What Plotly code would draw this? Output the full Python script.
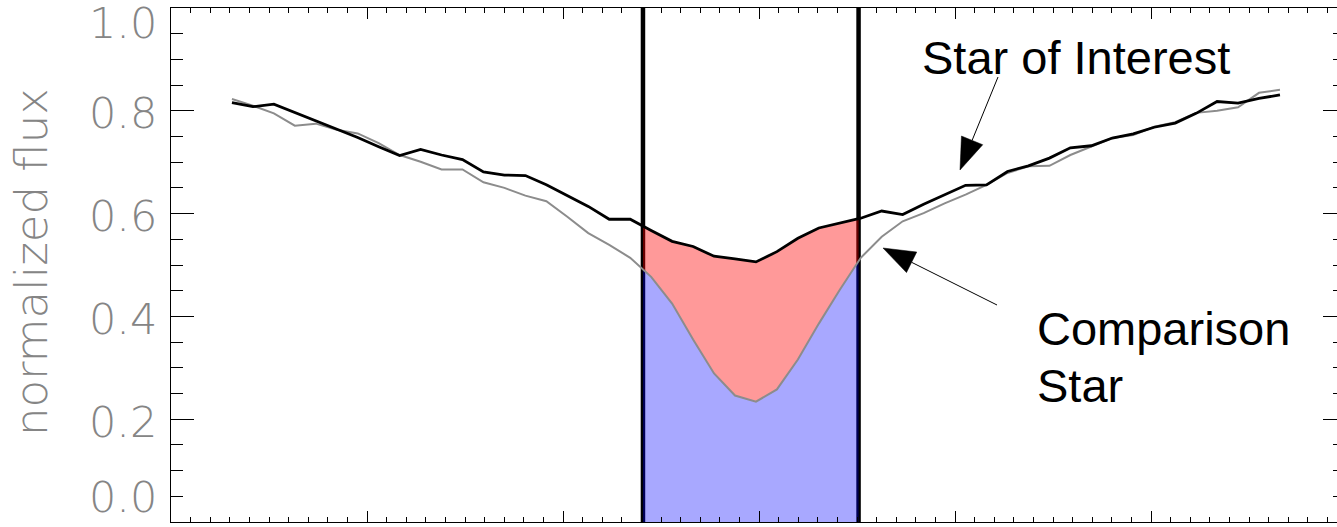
import numpy as np
import plotly.graph_objects as go

# Spectral samples (arbitrary wavelength units along the x axis)
x_start = 3.11
x_step = 1.0694
n_samples = 51
wave = np.round(x_start + x_step * np.arange(n_samples), 3)

# Normalized flux of the target star
flux_target = [
    0.816, 0.808, 0.813, 0.797, 0.780, 0.765, 0.748, 0.730, 0.713, 0.725,
    0.714, 0.705, 0.681, 0.675, 0.674, 0.656, 0.635, 0.614, 0.589, 0.589,
    0.567, 0.546, 0.536, 0.517, 0.512, 0.506, 0.526, 0.552, 0.572, 0.582,
    0.591, 0.605, 0.598, 0.618, 0.636, 0.655, 0.656, 0.682, 0.693, 0.708,
    0.728, 0.732, 0.747, 0.755, 0.768, 0.776, 0.795, 0.818, 0.815, 0.824,
    0.831,
]

# Normalized flux of the comparison star
flux_comparison = [
    0.823, 0.810, 0.795, 0.771, 0.775, 0.763, 0.756, 0.737, 0.714, 0.701,
    0.686, 0.686, 0.661, 0.650, 0.635, 0.624, 0.594, 0.562, 0.539, 0.514,
    0.477, 0.425, 0.355, 0.289, 0.246, 0.234, 0.258, 0.316, 0.386, 0.452,
    0.514, 0.555, 0.585, 0.601, 0.620, 0.637, 0.656, 0.679, 0.692, 0.693,
    0.714, 0.730, 0.747, 0.753, 0.769, 0.778, 0.796, 0.800, 0.807, 0.835,
    0.841,
]

# Integration window (line core)
band_edges = [24.08, 35.08]

# Y tick values and their labels
y_ticks = [0.0, 0.2, 0.4, 0.6, 0.8, 1.0]
y_tick_text = ["0.0", "0.2", "0.4", "0.6", "0.8", "1.0"]
y_label_shift = [25, -3, -3, -2, -2, -15]

# ---- page geometry ----
W, H = 1337, 527
ML, MR, MT, MB = 171, 0, 8, 5
PW, PH = W - ML - MR, H - MT - MB
X_RANGE = [0, PW / 19.6]
Y_RANGE = [0, 1]


def paper_x(px):
    return (px - ML) / PW


def paper_y(py):
    return (H - MB - py) / PH


wave = np.asarray(wave)
ft = np.asarray(flux_target)
fc = np.asarray(flux_comparison)
x_lo, x_hi = band_edges
inside = (wave > x_lo) & (wave < x_hi)
bx = np.concatenate([[x_lo], wave[inside], [x_hi]])
bt = np.interp(bx, wave, ft)
bc = np.interp(bx, wave, fc)

fig = go.Figure()

# window boundaries
for xe in band_edges:
    fig.add_trace(go.Scatter(x=[xe, xe], y=Y_RANGE, mode="lines",
                             line=dict(color="black", width=4.5),
                             showlegend=False, hoverinfo="skip"))

# absorbed flux: between target and comparison
fig.add_trace(go.Scatter(
    x=np.concatenate([bx, bx[::-1]]),
    y=np.concatenate([bt, bc[::-1]]),
    fill="toself", fillcolor="rgba(255,0,0,0.40)",
    mode="lines", line=dict(width=0), showlegend=False, hoverinfo="skip"))

# flux under the comparison curve
fig.add_trace(go.Scatter(
    x=np.concatenate([bx, [x_hi, x_lo]]),
    y=np.concatenate([bc, [0, 0]]),
    fill="toself", fillcolor="rgba(0,0,255,0.34)",
    mode="lines", line=dict(width=0), showlegend=False, hoverinfo="skip"))

fig.add_trace(go.Scatter(x=wave, y=fc, mode="lines",
                         line=dict(color="#8c8c8c", width=2),
                         showlegend=False))
fig.add_trace(go.Scatter(x=wave, y=ft, mode="lines",
                         line=dict(color="black", width=2.8),
                         showlegend=False))

# right-hand tick column
fig.add_trace(go.Scatter(x=[], y=[], yaxis="y2", showlegend=False))

thin = dict(family="DejaVu Sans", size=43, color="#858585", weight=200)
thin_title = dict(thin, size=45)

annotations = []
for v, txt, sh in zip(y_ticks, y_tick_text, y_label_shift):
    annotations.append(dict(x=paper_x(159), xref="paper", y=v, yref="y",
                            text=txt, showarrow=False, xanchor="right",
                            yanchor="middle", yshift=sh, font=thin))

annotations.append(dict(x=paper_x(31), xref="paper", y=paper_y(262), yref="paper",
                        text="normalized flux", textangle=-90, showarrow=False,
                        xanchor="center", yanchor="middle", font=thin_title))

label_font = dict(family="Liberation Sans", size=47, color="black")
annotations.append(dict(x=paper_x(920), y=paper_y(58), xref="paper", yref="paper",
                        text="Star of Interest", showarrow=False,
                        xanchor="left", yanchor="middle", font=label_font))
annotations.append(dict(x=paper_x(1035), y=paper_y(328), xref="paper", yref="paper",
                        text="Comparison", showarrow=False,
                        xanchor="left", yanchor="middle", font=label_font))
annotations.append(dict(x=paper_x(1035), y=paper_y(385), xref="paper", yref="paper",
                        text="Star", showarrow=False,
                        xanchor="left", yanchor="middle", font=label_font))

shapes = []


def arrow(tail, tip, head_len=32, head_w=23):
    tx, ty = tail
    hx, hy = tip
    dx, dy = hx - tx, hy - ty
    n = (dx * dx + dy * dy) ** 0.5
    ux, uy = dx / n, dy / n
    bx_, by_ = hx - ux * head_len, hy - uy * head_len
    px_, py_ = -uy * head_w / 2, ux * head_w / 2
    shapes.append(dict(type="line", xref="paper", yref="paper",
                       x0=paper_x(tx), y0=paper_y(ty),
                       x1=paper_x(bx_), y1=paper_y(by_),
                       line=dict(color="black", width=1)))
    pts = [(hx, hy), (bx_ + px_, by_ + py_), (bx_ - px_, by_ - py_)]
    path = "M " + " L ".join(f"{paper_x(a):.5f},{paper_y(b):.5f}" for a, b in pts) + " Z"
    shapes.append(dict(type="path", xref="paper", yref="paper", path=path,
                       fillcolor="black", line=dict(color="black", width=0.5)))


arrow((998, 77), (960, 170))
arrow((997, 305), (883, 248))

fig.update_layout(
    width=W, height=H,
    margin=dict(l=ML, r=MR, t=MT, b=MB, pad=0),
    paper_bgcolor="white", plot_bgcolor="white",
    showlegend=False,
    xaxis=dict(range=X_RANGE, showgrid=False, zeroline=False,
               showline=True, linecolor="black", linewidth=1.2,
               mirror="ticks", ticks="inside", tick0=0, dtick=10,
               ticklen=11, tickcolor="black", tickwidth=1,
               showticklabels=False,
               minor=dict(ticks="inside", dtick=1, ticklen=5,
                          tickcolor="black", tickwidth=1, showgrid=False)),
    yaxis=dict(range=Y_RANGE, showgrid=False, zeroline=False,
               showline=True, linecolor="black", linewidth=1.2,
               ticks="inside", tick0=0, dtick=0.2, ticklen=23,
               tickcolor="black", tickwidth=1, showticklabels=False,
               minor=dict(ticks="inside", dtick=0.05, ticklen=12,
                          tickcolor="black", tickwidth=1, showgrid=False)),
    yaxis2=dict(range=Y_RANGE, overlaying="y", side="right", anchor="x",
                showgrid=False, zeroline=False, showline=False,
                ticks="inside", tick0=0, dtick=0.2, ticklen=14,
                tickcolor="black", tickwidth=1, showticklabels=False,
                minor=dict(ticks="inside", dtick=0.05, ticklen=4,
                           tickcolor="black", tickwidth=1, showgrid=False)),
    annotations=annotations,
    shapes=shapes,
)

fig.write_html("out.html")
